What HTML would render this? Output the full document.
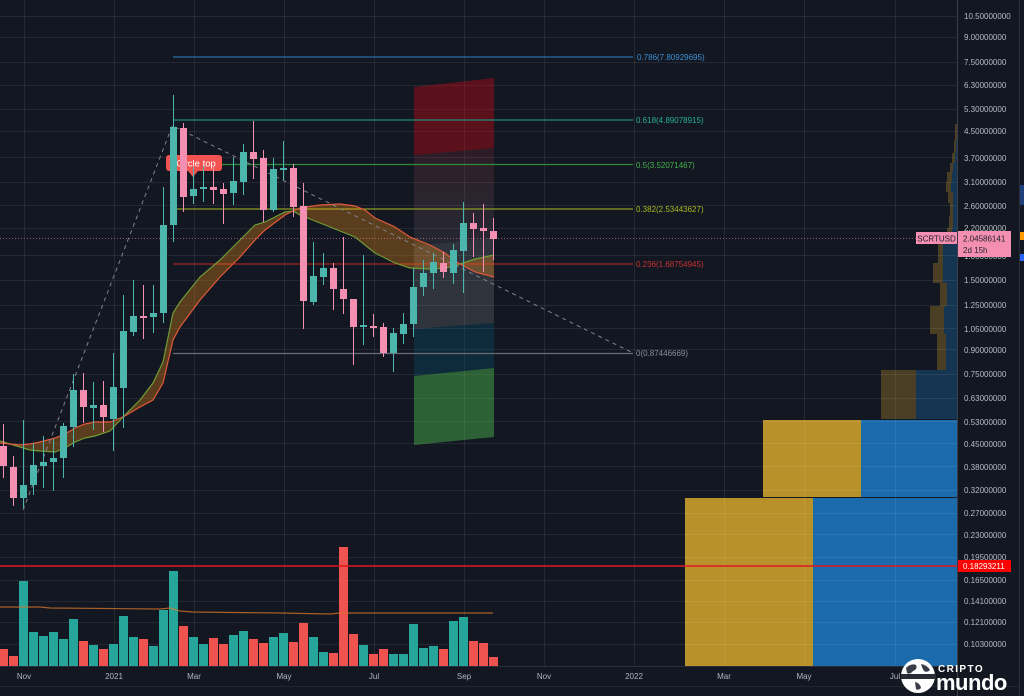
<!DOCTYPE html>
<html><head><meta charset="utf-8"><style>
html,body{margin:0;padding:0;background:#131722;width:1024px;height:696px;overflow:hidden}
svg{display:block}
text{font-family:"Liberation Sans",sans-serif}
</style></head><body>
<svg width="1024" height="696" viewBox="0 0 1024 696" xmlns="http://www.w3.org/2000/svg">
<rect x="0" y="0" width="1024" height="696" fill="#131722"/>

<!-- volume profile -->
<g>
<rect x="955" y="124" width="2" height="9" fill="#4a3f24"/>
<rect x="955" y="133" width="2" height="7" fill="#4a3f24"/>
<rect x="954" y="140" width="2" height="13" fill="#4a3f24"/><rect x="956" y="140" width="1" height="13" fill="#163552"/>
<rect x="952" y="153" width="3" height="10" fill="#4a3f24"/><rect x="955" y="153" width="2" height="10" fill="#163552"/>
<rect x="950" y="163" width="3" height="9" fill="#4a3f24"/><rect x="953" y="163" width="4" height="9" fill="#163552"/>
<rect x="947" y="172" width="5" height="10" fill="#4a3f24"/><rect x="952" y="172" width="5" height="10" fill="#163552"/>
<rect x="946" y="182" width="5" height="10" fill="#4a3f24"/><rect x="951" y="182" width="6" height="10" fill="#163552"/>
<rect x="948" y="192" width="5" height="11" fill="#4a3f24"/><rect x="953" y="192" width="4" height="11" fill="#163552"/>
<rect x="950" y="203" width="3" height="13" fill="#4a3f24"/><rect x="953" y="203" width="4" height="13" fill="#163552"/>
<rect x="949" y="216" width="4" height="12" fill="#4a3f24"/><rect x="953" y="216" width="4" height="12" fill="#163552"/>
<rect x="947" y="228" width="5" height="16" fill="#4a3f24"/><rect x="952" y="228" width="5" height="16" fill="#163552"/>
<rect x="938" y="244" width="5" height="19" fill="#4a3f24"/><rect x="943" y="244" width="14" height="19" fill="#163552"/>
<rect x="933" y="263" width="10" height="20" fill="#4a3f24"/><rect x="943" y="263" width="14" height="20" fill="#163552"/>
<rect x="940" y="283" width="7" height="23" fill="#4a3f24"/><rect x="947" y="283" width="10" height="23" fill="#163552"/>
<rect x="930" y="306" width="14" height="28" fill="#4a3f24"/><rect x="944" y="306" width="13" height="28" fill="#163552"/>
<rect x="937" y="334" width="9" height="36" fill="#4a3f24"/><rect x="946" y="334" width="11" height="36" fill="#163552"/>
<rect x="881" y="370" width="35" height="49" fill="#4a3f24"/><rect x="916" y="370" width="41" height="49" fill="#163552"/>
<rect x="763" y="420" width="98" height="77" fill="#b8912a"/><rect x="861" y="420" width="96" height="77" fill="#1a6aac"/>
<rect x="685" y="498" width="128" height="168" fill="#b8912a"/><rect x="813" y="498" width="144" height="168" fill="#1a6aac"/>
</g>

<!-- grid -->
<g stroke="rgba(255,255,255,0.075)" stroke-width="1">
<line x1="0" x2="957" y1="16.5" y2="16.5"/><line x1="0" x2="957" y1="37.5" y2="37.5"/>
<line x1="0" x2="957" y1="62.5" y2="62.5"/><line x1="0" x2="957" y1="85.5" y2="85.5"/>
<line x1="0" x2="957" y1="109.5" y2="109.5"/><line x1="0" x2="957" y1="131.5" y2="131.5"/>
<line x1="0" x2="957" y1="157.5" y2="157.5"/><line x1="0" x2="957" y1="182.5" y2="182.5"/>
<line x1="0" x2="957" y1="205.5" y2="205.5"/><line x1="0" x2="957" y1="228.5" y2="228.5"/>
<line x1="0" x2="957" y1="255.5" y2="255.5"/><line x1="0" x2="957" y1="280.5" y2="280.5"/>
<line x1="0" x2="957" y1="305.5" y2="305.5"/><line x1="0" x2="957" y1="328.5" y2="328.5"/>
<line x1="0" x2="957" y1="349.5" y2="349.5"/><line x1="0" x2="957" y1="374.5" y2="374.5"/>
<line x1="0" x2="957" y1="398.5" y2="398.5"/><line x1="0" x2="957" y1="421.5" y2="421.5"/>
<line x1="0" x2="957" y1="443.5" y2="443.5"/><line x1="0" x2="957" y1="466.5" y2="466.5"/>
<line x1="0" x2="957" y1="490.5" y2="490.5"/><line x1="0" x2="957" y1="513.5" y2="513.5"/>
<line x1="0" x2="957" y1="534.5" y2="534.5"/><line x1="0" x2="957" y1="557.5" y2="557.5"/>
<line x1="0" x2="957" y1="580.5" y2="580.5"/><line x1="0" x2="957" y1="601.5" y2="601.5"/>
<line x1="0" x2="957" y1="622.5" y2="622.5"/><line x1="0" x2="957" y1="644.5" y2="644.5"/>
<line x1="24.5" x2="24.5" y1="0" y2="666"/><line x1="114.5" x2="114.5" y1="0" y2="666"/>
<line x1="194.5" x2="194.5" y1="0" y2="666"/><line x1="284.5" x2="284.5" y1="0" y2="666"/>
<line x1="374.5" x2="374.5" y1="0" y2="666"/><line x1="464.5" x2="464.5" y1="0" y2="666"/>
<line x1="544.5" x2="544.5" y1="0" y2="666"/><line x1="634.5" x2="634.5" y1="0" y2="666"/>
<line x1="724.5" x2="724.5" y1="0" y2="666"/><line x1="804.5" x2="804.5" y1="0" y2="666"/>
<line x1="895.5" x2="895.5" y1="0" y2="666"/>
</g>

<!-- projection tool -->
<defs>
<linearGradient id="fade" x1="0" y1="0" x2="0" y2="1">
<stop offset="0" stop-color="rgb(190,50,60)" stop-opacity="0.16"/>
<stop offset="1" stop-color="rgb(230,210,215)" stop-opacity="0.08"/>
</linearGradient>
</defs>
<polygon points="414,87 494,78 494,148 414,155" fill="rgba(200,10,20,0.4)"/>
<polygon points="414,155 494,148 494,238 414,246" fill="url(#fade)"/>
<polygon points="414,246 494,238 494,323 414,329" fill="rgba(255,255,255,0.12)"/>
<polygon points="414,329 494,323 494,368 414,376" fill="rgba(0,120,150,0.22)"/>
<polygon points="414,376 494,368 494,437 414,445" fill="rgba(80,200,80,0.42)"/>

<!-- fib lines -->
<g stroke-width="1.2">
<line x1="173" x2="633" y1="57" y2="57" stroke="#2a6f9e"/>
<line x1="173" x2="633" y1="120" y2="120" stroke="#1f8a78"/>
<line x1="173" x2="633" y1="164.5" y2="164.5" stroke="#2e8b3a"/>
<line x1="173" x2="633" y1="209" y2="209" stroke="#8a9c20"/>
<line x1="173" x2="633" y1="264" y2="264" stroke="#a52222"/>
<line x1="173" x2="633" y1="353.5" y2="353.5" stroke="#6a6d78"/>
</g>
<g font-size="8">
<text x="637" y="60" fill="#3c8fcf">0.786(7.80929695)</text>
<text x="636" y="123" fill="#2ab09a">0.618(4.89078915)</text>
<text x="636" y="168" fill="#46b04c">0.5(3.52071467)</text>
<text x="636" y="212" fill="#a8b820">0.382(2.53443627)</text>
<text x="636" y="267" fill="#c83232">0.236(1.68754945)</text>
<text x="636" y="356" fill="#8a8d98">0(0.87446669)</text>
</g>

<!-- volume -->
<g>
<rect x="-1" y="649" width="9" height="17" fill="#ef5350"/>
<rect x="9" y="656" width="9" height="10" fill="#ef5350"/>
<rect x="19" y="581" width="9" height="85" fill="#26a69a"/>
<rect x="29" y="632" width="9" height="34" fill="#26a69a"/>
<rect x="39" y="636" width="9" height="30" fill="#26a69a"/>
<rect x="49" y="632" width="9" height="34" fill="#26a69a"/>
<rect x="59" y="639" width="9" height="27" fill="#26a69a"/>
<rect x="69" y="619" width="9" height="47" fill="#26a69a"/>
<rect x="79" y="641" width="9" height="25" fill="#ef5350"/>
<rect x="89" y="645" width="9" height="21" fill="#26a69a"/>
<rect x="99" y="649" width="9" height="17" fill="#ef5350"/>
<rect x="109" y="644" width="9" height="22" fill="#26a69a"/>
<rect x="119" y="616" width="9" height="50" fill="#26a69a"/>
<rect x="129" y="637" width="9" height="29" fill="#26a69a"/>
<rect x="139" y="639" width="9" height="27" fill="#ef5350"/>
<rect x="149" y="646" width="9" height="20" fill="#26a69a"/>
<rect x="159" y="610" width="9" height="56" fill="#26a69a"/>
<rect x="169" y="571" width="9" height="95" fill="#26a69a"/>
<rect x="179" y="626" width="9" height="40" fill="#ef5350"/>
<rect x="189" y="637" width="9" height="29" fill="#26a69a"/>
<rect x="199" y="644" width="9" height="22" fill="#26a69a"/>
<rect x="209" y="638" width="9" height="28" fill="#ef5350"/>
<rect x="219" y="644" width="9" height="22" fill="#ef5350"/>
<rect x="229" y="635" width="9" height="31" fill="#26a69a"/>
<rect x="239" y="631" width="9" height="35" fill="#26a69a"/>
<rect x="249" y="639" width="9" height="27" fill="#ef5350"/>
<rect x="259" y="643" width="9" height="23" fill="#ef5350"/>
<rect x="269" y="637" width="9" height="29" fill="#26a69a"/>
<rect x="279" y="633" width="9" height="33" fill="#26a69a"/>
<rect x="289" y="642" width="9" height="24" fill="#ef5350"/>
<rect x="299" y="623" width="9" height="43" fill="#ef5350"/>
<rect x="309" y="637" width="9" height="29" fill="#26a69a"/>
<rect x="319" y="652" width="9" height="14" fill="#26a69a"/>
<rect x="329" y="653" width="9" height="13" fill="#ef5350"/>
<rect x="339" y="547" width="9" height="119" fill="#ef5350"/>
<rect x="349" y="634" width="9" height="32" fill="#ef5350"/>
<rect x="359" y="645" width="9" height="21" fill="#26a69a"/>
<rect x="369" y="654" width="9" height="12" fill="#ef5350"/>
<rect x="379" y="649" width="9" height="17" fill="#ef5350"/>
<rect x="389" y="654" width="9" height="12" fill="#26a69a"/>
<rect x="399" y="654" width="9" height="12" fill="#26a69a"/>
<rect x="409" y="624" width="9" height="42" fill="#26a69a"/>
<rect x="419" y="648" width="9" height="18" fill="#26a69a"/>
<rect x="429" y="646" width="9" height="20" fill="#26a69a"/>
<rect x="439" y="649" width="9" height="17" fill="#ef5350"/>
<rect x="449" y="621" width="9" height="45" fill="#26a69a"/>
<rect x="459" y="617" width="9" height="49" fill="#26a69a"/>
<rect x="469" y="641" width="9" height="25" fill="#ef5350"/>
<rect x="479" y="643" width="9" height="23" fill="#ef5350"/>
<rect x="489" y="657" width="9" height="9" fill="#ef5350"/>
</g>
<polyline points="0,607 40,607 50,608 160,609 170,608 180,611 193,612 280,613 330,614 340,613 493,613" fill="none" stroke="rgba(220,120,40,0.75)" stroke-width="1.2"/>

<!-- red horizontal -->
<line x1="0" x2="957" y1="566" y2="566" stroke="#e0181f" stroke-width="1.6"/>

<!-- ribbon -->
<polygon fill="rgba(255,150,20,0.3)" points="0,441 10,444 20,447 30,450 40,451 55,452 65,448 75,442 85,438 95,436 110,431 123,417 140,400 153,383 163,362 173,313 180,302 200,277 220,260 240,240 255,225 265,222 285,212 293,211 300,215 320,223 340,231 355,237 365,245 375,253 395,263 410,268 430,269 445,268 455,266 460,264 475,259 494,255 494,277 475,272 460,264 455,261 445,253 430,245 410,237 395,227 375,218 365,210 355,206 340,204 320,205 300,208 293,211 285,215 265,230 255,240 240,257 220,277 200,300 180,327 173,340 163,383 153,400 140,407 123,417 110,422 95,422 85,424 75,428 65,434 55,438 40,442 30,444 20,445 10,444 0,443"/>
<polyline fill="none" stroke="#6f9a36" stroke-width="1.2" points="0,441 10,444 20,447 30,450 40,451 55,452 65,448 75,442 85,438 95,436 110,431 123,417 140,400 153,383 163,362 173,313 180,302 200,277 220,260 240,240 255,225 265,222 285,212 293,211 300,215 320,223 340,231 355,237 365,245 375,253 395,263 410,268 430,269 445,268 455,266 460,264 475,259 494,255"/>
<polyline fill="none" stroke="#e0583a" stroke-width="1.2" points="0,443 10,444 20,445 30,444 40,442 55,438 65,434 75,428 85,424 95,422 110,422 123,417 140,407 153,400 163,383 173,340 180,327 200,300 220,277 240,257 255,240 265,230 285,215 293,211 300,208 320,205 340,204 355,206 365,210 375,218 395,227 410,237 430,245 445,253 455,261 460,264 475,272 494,277"/>

<!-- dashed lines -->
<g stroke="#80838d" stroke-width="1" stroke-dasharray="4 4" fill="none">
<line x1="23" y1="510" x2="173" y2="124"/>
<line x1="175" y1="127" x2="633" y2="353"/>
</g>

<!-- current price dotted -->
<line x1="0" x2="957" y1="238.5" y2="238.5" stroke="rgba(244,143,177,0.55)" stroke-width="1" stroke-dasharray="1 2"/>

<!-- cycle top label -->
<rect x="166" y="155" width="56" height="16" rx="3" fill="#f05350"/>
<polygon points="188,171 198,171 193,177" fill="#f05350"/>
<text x="196" y="166.5" font-size="9.5" fill="#ffffff" text-anchor="middle">Cycle top</text>

<!-- candles -->
<g>
<rect x="3" y="424" width="1" height="54" fill="#f48fb1"/><rect x="0" y="446" width="7" height="20" fill="#f48fb1"/>
<rect x="13" y="456" width="1" height="50" fill="#f48fb1"/><rect x="10" y="467" width="7" height="31" fill="#f48fb1"/>
<rect x="23" y="420" width="1" height="88" fill="#4db6ac"/><rect x="20" y="485" width="7" height="13" fill="#4db6ac"/>
<rect x="33" y="443" width="1" height="52" fill="#4db6ac"/><rect x="30" y="465" width="7" height="20" fill="#4db6ac"/>
<rect x="43" y="436" width="1" height="52" fill="#4db6ac"/><rect x="40" y="462" width="7" height="4" fill="#4db6ac"/>
<rect x="53" y="439" width="1" height="52" fill="#4db6ac"/><rect x="50" y="458" width="7" height="4" fill="#4db6ac"/>
<rect x="63" y="423" width="1" height="55" fill="#4db6ac"/><rect x="60" y="426" width="7" height="32" fill="#4db6ac"/>
<rect x="73" y="374" width="1" height="73" fill="#4db6ac"/><rect x="70" y="390" width="7" height="37" fill="#4db6ac"/>
<rect x="83" y="373" width="1" height="50" fill="#f48fb1"/><rect x="80" y="390" width="7" height="17" fill="#f48fb1"/>
<rect x="93" y="382" width="1" height="48" fill="#4db6ac"/><rect x="90" y="405" width="7" height="3" fill="#4db6ac"/>
<rect x="103" y="381" width="1" height="51" fill="#f48fb1"/><rect x="100" y="405" width="7" height="12" fill="#f48fb1"/>
<rect x="113" y="353" width="1" height="98" fill="#4db6ac"/><rect x="110" y="387" width="7" height="32" fill="#4db6ac"/>
<rect x="123" y="295" width="1" height="133" fill="#4db6ac"/><rect x="120" y="331" width="7" height="57" fill="#4db6ac"/>
<rect x="133" y="280" width="1" height="56" fill="#4db6ac"/><rect x="130" y="316" width="7" height="16" fill="#4db6ac"/>
<rect x="143" y="285" width="1" height="54" fill="#f48fb1"/><rect x="140" y="316" width="7" height="2" fill="#f48fb1"/>
<rect x="153" y="285" width="1" height="48" fill="#4db6ac"/><rect x="150" y="313" width="7" height="4" fill="#4db6ac"/>
<rect x="163" y="187" width="1" height="136" fill="#4db6ac"/><rect x="160" y="225" width="7" height="88" fill="#4db6ac"/>
<rect x="173" y="95" width="1" height="147" fill="#4db6ac"/><rect x="170" y="127" width="7" height="98" fill="#4db6ac"/>
<rect x="183" y="123" width="1" height="89" fill="#f48fb1"/><rect x="180" y="128" width="7" height="69" fill="#f48fb1"/>
<rect x="193" y="167" width="1" height="37" fill="#4db6ac"/><rect x="190" y="189" width="7" height="7" fill="#4db6ac"/>
<rect x="203" y="166" width="1" height="36" fill="#4db6ac"/><rect x="200" y="187" width="7" height="2" fill="#4db6ac"/>
<rect x="213" y="167" width="1" height="37" fill="#f48fb1"/><rect x="210" y="187" width="7" height="3" fill="#f48fb1"/>
<rect x="223" y="183" width="1" height="41" fill="#f48fb1"/><rect x="220" y="189" width="7" height="5" fill="#f48fb1"/>
<rect x="233" y="157" width="1" height="48" fill="#4db6ac"/><rect x="230" y="181" width="7" height="12" fill="#4db6ac"/>
<rect x="243" y="144" width="1" height="51" fill="#4db6ac"/><rect x="240" y="152" width="7" height="30" fill="#4db6ac"/>
<rect x="253" y="121" width="1" height="58" fill="#f48fb1"/><rect x="250" y="152" width="7" height="7" fill="#f48fb1"/>
<rect x="263" y="150" width="1" height="72" fill="#f48fb1"/><rect x="260" y="158" width="7" height="52" fill="#f48fb1"/>
<rect x="273" y="158" width="1" height="54" fill="#4db6ac"/><rect x="270" y="169" width="7" height="41" fill="#4db6ac"/>
<rect x="283" y="141" width="1" height="39" fill="#4db6ac"/><rect x="280" y="168" width="7" height="2" fill="#4db6ac"/>
<rect x="293" y="164" width="1" height="53" fill="#f48fb1"/><rect x="290" y="168" width="7" height="39" fill="#f48fb1"/>
<rect x="303" y="183" width="1" height="146" fill="#f48fb1"/><rect x="300" y="206" width="7" height="95" fill="#f48fb1"/>
<rect x="313" y="242" width="1" height="63" fill="#4db6ac"/><rect x="310" y="276" width="7" height="26" fill="#4db6ac"/>
<rect x="323" y="253" width="1" height="32" fill="#4db6ac"/><rect x="320" y="268" width="7" height="9" fill="#4db6ac"/>
<rect x="333" y="263" width="1" height="47" fill="#f48fb1"/><rect x="330" y="268" width="7" height="21" fill="#f48fb1"/>
<rect x="343" y="237" width="1" height="77" fill="#f48fb1"/><rect x="340" y="289" width="7" height="10" fill="#f48fb1"/>
<rect x="353" y="299" width="1" height="66" fill="#f48fb1"/><rect x="350" y="299" width="7" height="28" fill="#f48fb1"/>
<rect x="363" y="255" width="1" height="90" fill="#4db6ac"/><rect x="360" y="325" width="7" height="2" fill="#4db6ac"/>
<rect x="373" y="314" width="1" height="23" fill="#f48fb1"/><rect x="370" y="326" width="7" height="2" fill="#f48fb1"/>
<rect x="383" y="323" width="1" height="34" fill="#f48fb1"/><rect x="380" y="327" width="7" height="26" fill="#f48fb1"/>
<rect x="393" y="328" width="1" height="44" fill="#4db6ac"/><rect x="390" y="333" width="7" height="20" fill="#4db6ac"/>
<rect x="403" y="313" width="1" height="31" fill="#4db6ac"/><rect x="400" y="324" width="7" height="10" fill="#4db6ac"/>
<rect x="413" y="268" width="1" height="69" fill="#4db6ac"/><rect x="410" y="287" width="7" height="37" fill="#4db6ac"/>
<rect x="423" y="260" width="1" height="36" fill="#4db6ac"/><rect x="420" y="273" width="7" height="14" fill="#4db6ac"/>
<rect x="433" y="253" width="1" height="36" fill="#4db6ac"/><rect x="430" y="262" width="7" height="11" fill="#4db6ac"/>
<rect x="443" y="252" width="1" height="26" fill="#f48fb1"/><rect x="440" y="263" width="7" height="9" fill="#f48fb1"/>
<rect x="453" y="244" width="1" height="40" fill="#4db6ac"/><rect x="450" y="250" width="7" height="23" fill="#4db6ac"/>
<rect x="463" y="202" width="1" height="91" fill="#4db6ac"/><rect x="460" y="223" width="7" height="28" fill="#4db6ac"/>
<rect x="473" y="213" width="1" height="44" fill="#f48fb1"/><rect x="470" y="223" width="7" height="6" fill="#f48fb1"/>
<rect x="483" y="204" width="1" height="68" fill="#f48fb1"/><rect x="480" y="228" width="7" height="3" fill="#f48fb1"/>
<rect x="493" y="218" width="1" height="42" fill="#f48fb1"/><rect x="490" y="231" width="7" height="8" fill="#f48fb1"/>
</g>

<!-- right axis -->
<rect x="958" y="0" width="61" height="696" fill="#131722"/>
<line x1="957.5" x2="957.5" y1="0" y2="696" stroke="#3a3e4a" stroke-width="1"/>
<line x1="1019.5" x2="1019.5" y1="0" y2="696" stroke="#2a2e39" stroke-width="1"/>
<rect x="1020" y="185" width="4" height="20" fill="#1e3f7a"/>
<rect x="1020" y="232" width="4" height="8" fill="#ff9800"/>
<rect x="1020" y="254" width="4" height="7" fill="#2962ff"/>
<g font-size="8" fill="#b8bbc4">
<text x="964" y="19">10.50000000</text>
<text x="964" y="40">9.00000000</text>
<text x="964" y="65">7.50000000</text>
<text x="964" y="88">6.30000000</text>
<text x="964" y="112">5.30000000</text>
<text x="964" y="134">4.50000000</text>
<text x="964" y="161">3.70000000</text>
<text x="964" y="185">3.10000000</text>
<text x="964" y="209">2.60000000</text>
<text x="964" y="231">2.20000000</text>
<text x="964" y="259">1.80000000</text>
<text x="964" y="283">1.50000000</text>
<text x="964" y="308">1.25000000</text>
<text x="964" y="332">1.05000000</text>
<text x="964" y="353">0.90000000</text>
<text x="964" y="377">0.75000000</text>
<text x="964" y="401">0.63000000</text>
<text x="964" y="425">0.53000000</text>
<text x="964" y="447">0.45000000</text>
<text x="964" y="470">0.38000000</text>
<text x="964" y="493">0.32000000</text>
<text x="964" y="516">0.27000000</text>
<text x="964" y="538">0.23000000</text>
<text x="964" y="560">0.19500000</text>
<text x="964" y="583">0.16500000</text>
<text x="964" y="604">0.14100000</text>
<text x="964" y="625">0.12100000</text>
<text x="964" y="647">0.10300000</text>
</g>

<!-- labels -->
<rect x="916" y="232" width="41" height="12" fill="#f48fb1"/>
<text x="936.5" y="241.5" font-size="8" fill="#1c1f2a" text-anchor="middle">SCRTUSD</text>
<rect x="958" y="231" width="53" height="26" fill="#f48fb1"/>
<text x="963" y="241.5" font-size="8" fill="#1c1f2a">2.04586141</text>
<text x="963" y="253" font-size="8" fill="#1c1f2a">2d 15h</text>
<rect x="958" y="560" width="53" height="12" fill="#ff0000"/>
<text x="963" y="569" font-size="8" fill="#ffffff">0.18293211</text>

<!-- time axis -->
<line x1="0" x2="958" y1="666.5" y2="666.5" stroke="#2a2e39"/>
<line x1="0" x2="1019" y1="686.5" y2="686.5" stroke="#22262f"/>
<g font-size="8" fill="#b2b5be" text-anchor="middle">
<text x="24" y="679">Nov</text>
<text x="114" y="679">2021</text>
<text x="194" y="679">Mar</text>
<text x="284" y="679">May</text>
<text x="374" y="679">Jul</text>
<text x="464" y="679">Sep</text>
<text x="544" y="679">Nov</text>
<text x="634" y="679">2022</text>
<text x="724" y="679">Mar</text>
<text x="804" y="679">May</text>
<text x="895" y="679">Jul</text>
</g>

<!-- logo -->
<g>
<circle cx="918" cy="676" r="17" fill="#ffffff"/>
<path d="M906,668 q5,-5 10,-3 q2,4 -3,6 q-3,4 -6,2 z" fill="#3a3d45"/>
<path d="M921,664 q6,1 9,6 q-3,3 -6,1 q-2,-3 -3,-7 z" fill="#3a3d45"/>
<path d="M915,682 q5,1 6,6 q-3,3 -5,1 z" fill="#3a3d45"/>
<rect x="901" y="674" width="35" height="5" fill="#2a2d35"/>
<text x="938" y="672" font-size="10" font-weight="bold" fill="#ffffff" letter-spacing="1.4">CRIPTO</text>
<text x="936" y="690" font-size="22" font-weight="bold" fill="#ffffff" letter-spacing="-0.5">mundo</text>
</g>
</svg>
</body></html>
